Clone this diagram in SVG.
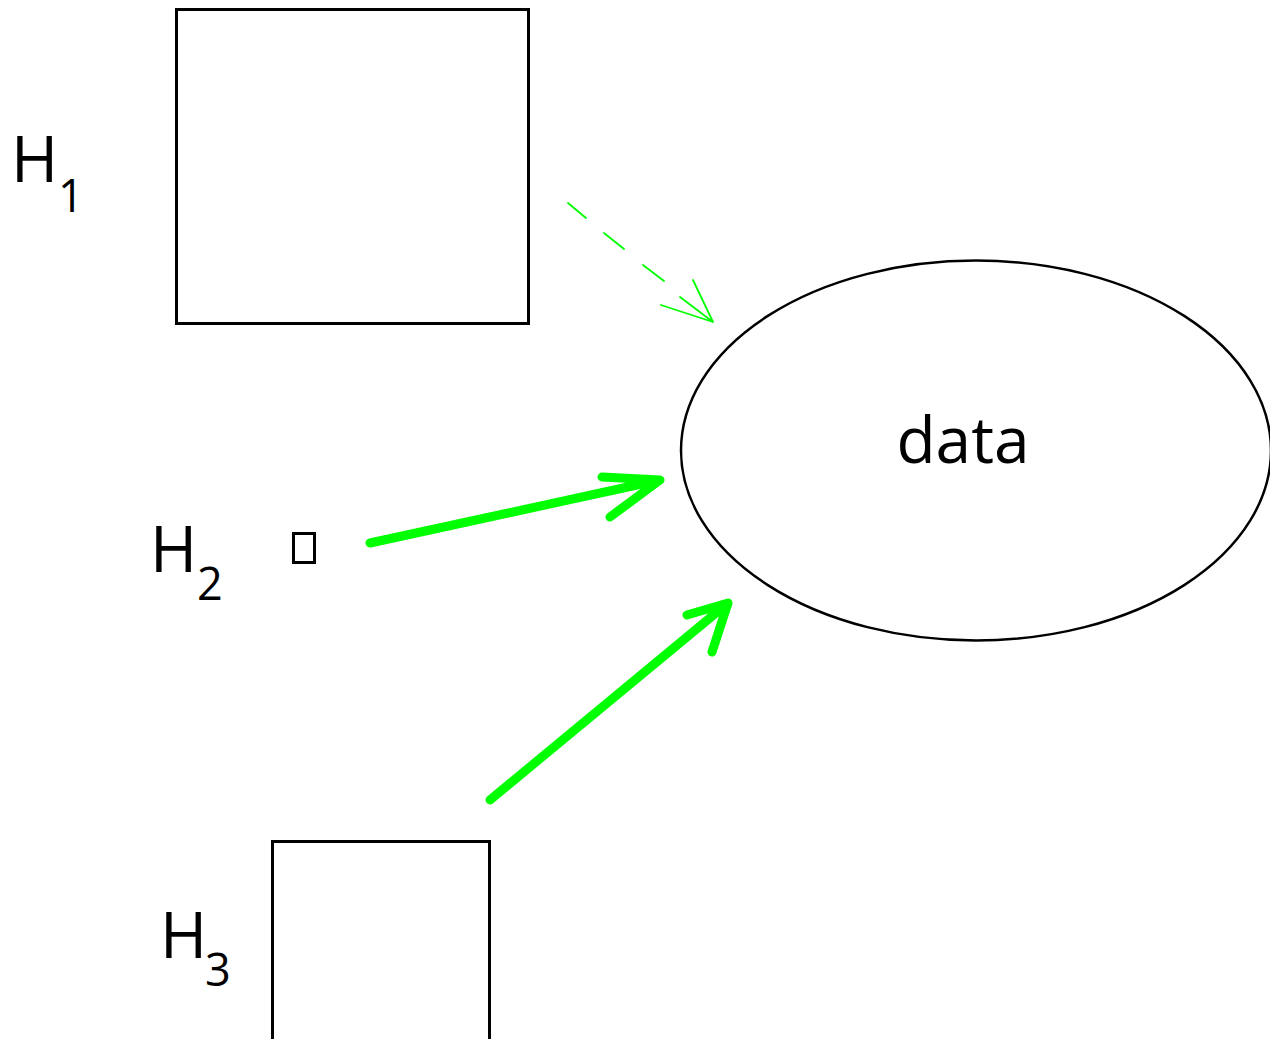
<svg xmlns="http://www.w3.org/2000/svg" width="1270" height="1039" viewBox="0 0 1270 1039">
<style>
.box{fill:none;stroke:#000;stroke-width:3}
.lbl{font-family:"Open Sans","DejaVu Sans",sans-serif;fill:#000}
.big{font-size:64px}
.sub{font-size:45px}
.thick{fill:none;stroke:#00ff00;stroke-width:9;stroke-linecap:round;stroke-linejoin:round}
.thin{fill:none;stroke:#00ff00;stroke-width:1.8;stroke-linecap:round}
</style>
<rect width="1270" height="1039" fill="#fff"/>
<g id="H1">
<rect class="box" x="176.5" y="9.5" width="352" height="314"/>
<text class="lbl big" x="11" y="182">H</text>
<text class="lbl sub" x="58" y="212">1</text>
</g>
<g id="H2">
<rect class="box" x="293.5" y="533.5" width="21" height="29"/>
<text class="lbl big" x="150" y="572">H</text>
<text class="lbl sub" x="197" y="600">2</text>
</g>
<g id="H3">
<rect class="box" x="272.5" y="841.5" width="217" height="200"/>
<text class="lbl big" x="160" y="958">H</text>
<text class="lbl sub" x="205" y="986">3</text>
</g>
<g id="data">
<ellipse cx="976" cy="450.5" rx="295" ry="190" fill="none" stroke="#000" stroke-width="2.5"/>
<text class="lbl" x="963" y="463" font-size="64" text-anchor="middle">data</text>
</g>
<g id="connectors">
<path class="thin" d="M568 203 L586 218 M604 233 L624 249 M643 265 L664 281"/>
<path class="thin" d="M693 280 L713 322 M680 297 L713 322 M661 305 L713 322"/>
<path class="thick" d="M370 543 L660 480 M602 477 L660 480 L610 517"/>
<path class="thick" d="M490 800 L728 603 M687 615 L728 603 L712 652"/>
</g>
</svg>
